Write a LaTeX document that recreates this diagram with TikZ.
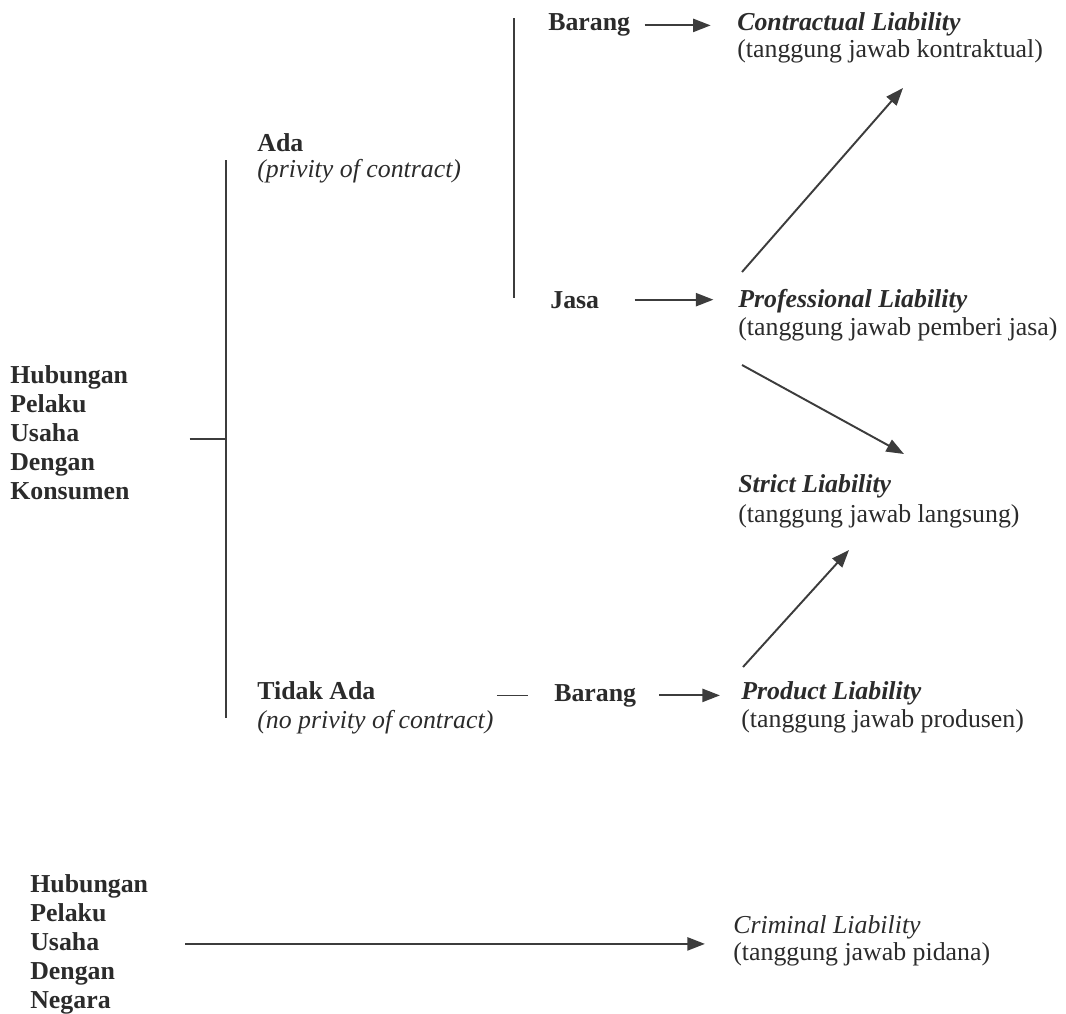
\documentclass[tikz,border=0pt]{standalone}
\usepackage{fontspec}
\setmainfont{Liberation Serif}
\usetikzlibrary{arrows.meta,positioning}

\definecolor{inktext}{HTML}{2B2B2B}
\definecolor{inkline}{HTML}{3C3C3C}

\tikzset{
  lbl/.style={inner sep=0pt, anchor=base west, align=left, text=inktext,
              font=\fontsize{14.7}{16.5}\selectfont},
  head/.style={lbl, font=\fontsize{14.7}{16.5}\selectfont\bfseries},
  bar/.style={draw=inkline, line width=0.9pt},
  arr/.style={draw=inkline, line width=1.1pt, -{Triangle[length=10pt,width=7.5pt]}},
}

\begin{document}
\begin{tikzpicture}[x=0.02cm, y=-0.02cm]
	\useasboundingbox (0,0) rectangle (1066,1014);
	%\draw[help lines, step=50] (0,0) grid (1066,1014);

	% left side: pelaku usaha - konsumen (base = last line)
	\node[head] (konsumen) at (10,499) {Hubungan\\Pelaku\\Usaha\\Dengan\\Konsumen};

	\node[head] (ada) at (257,151) {Ada};
	\node[lbl] (ada-sub) at ([shift={(0,26)}]ada.base west) {\textit{(privity of contract)}};
	\node[head] (tidakada) at (257,699) {Tidak Ada};
	\node[lbl] (tidakada-sub) at ([shift={(0,29)}]tidakada.base west) {\textit{(no privity of contract)}};

	\node[head] (barangA) at (548,31) {Barang};
	\node[head] (jasa) at (550,308) {Jasa};
	\node[head] (barangB) at (554,701) {Barang};

	% liability kinds
	\node[lbl, font=\fontsize{14.7}{16.5}\selectfont\bfseries\itshape] (contractual) at (737,31) {Contractual Liability};
	\node[lbl] (contractual-sub) at ([shift={(0,26)}]contractual.base west) {(tanggung jawab kontraktual)};
	\node[lbl, font=\fontsize{14.7}{16.5}\selectfont\bfseries\itshape] (professional) at (738,307) {Professional Liability};
	\node[lbl] (professional-sub) at ([shift={(0,28)}]professional.base west) {(tanggung jawab pemberi jasa)};
	\node[lbl, font=\fontsize{14.7}{16.5}\selectfont\bfseries\itshape] (strict) at (738,492) {Strict Liability};
	\node[lbl] (strict-sub) at ([shift={(0,30)}]strict.base west) {(tanggung jawab langsung)};
	\node[lbl, font=\fontsize{14.7}{16.5}\selectfont\bfseries\itshape] (product) at (741,699) {Product Liability};
	\node[lbl] (product-sub) at ([shift={(0,28)}]product.base west) {(tanggung jawab produsen)};

	% brackets
	\coordinate (brk-top) at (226,160);
	\coordinate (brk-bot) at (226,718);
	\coordinate (sub-top) at (514,18);
	\coordinate (sub-bot) at (514,298);
	\draw[bar] (brk-top) -- (brk-bot);
	\draw[bar] (sub-top) -- (sub-bot);
	\draw[bar, shorten <=34pt] ([yshift=-4pt]konsumen.east) -- ([yshift=-4pt]konsumen.east -| brk-top);
	\draw[bar] ([xshift=-32.5pt]barangB.west) -- ([xshift=-14.8pt]barangB.west);

	\draw[arr, shorten <=8pt, shorten >=15pt] (barangA.east) -- (barangA.east -| contractual.west);
	\draw[arr, shorten <=20pt, shorten >=14pt] (jasa.east) -- (jasa.east -| professional.west);
	\draw[arr, shorten <=13pt, shorten >=12pt] (barangB.east) -- (barangB.east -| product.west);

	% diagonal links
	\coordinate (pro-up) at (742,272);
	\coordinate (con-low) at (903,88);
	\coordinate (pro-low) at (742,365);
	\coordinate (str-up) at (904,454);
	\coordinate (prd-up) at (743,667);
	\coordinate (str-low) at (849,550);
	\draw[arr] (pro-up) -- (con-low);
	\draw[arr] (pro-low) -- (str-up);
	\draw[arr] (prd-up) -- (str-low);

	% pelaku usaha - negara (base = last line)
	\node[head] (negara) at (30,1008) {Hubungan\\Pelaku\\Usaha\\Dengan\\Negara};
	\node[lbl, font=\fontsize{14.7}{16.5}\selectfont\itshape] (criminal) at (733,933) {Criminal Liability};
	\node[lbl] (criminal-sub) at ([shift={(0,27)}]criminal.base west) {(tanggung jawab pidana)};
	\draw[arr, shorten <=21pt, shorten >=16pt] (negara.east) -- (negara.east -| criminal.west);
\end{tikzpicture}
\end{document}
